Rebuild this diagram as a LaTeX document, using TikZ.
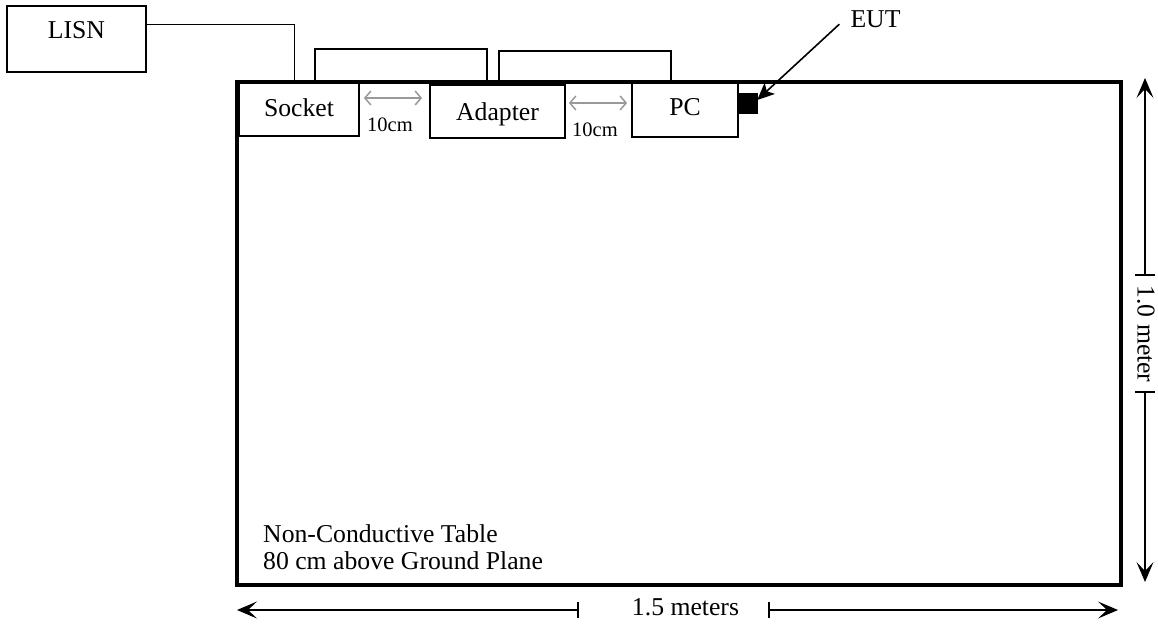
\documentclass[tikz,border=0pt]{standalone}
\usepackage{fontspec}
\setmainfont{Liberation Serif}
\usetikzlibrary{arrows.meta}
\begin{document}
\begin{tikzpicture}[x=1pt,y=-1pt,
  bigfont/.style={font=\fontsize{25.7}{27}\selectfont},
  box/.style={draw, line width=1.8pt, fill=white, inner sep=0pt, bigfont,
    text height=17pt, text depth=#1},
  box/.default=0pt,
  tablebox/.style={draw, line width=3.8pt, inner sep=0pt},
  cable/.style={line width=2pt},
  wire/.style={line width=1pt},
  gap/.style={draw=black!40, line width=1.5pt, {Straight Barb[length=6pt,width=14pt]}-{Straight Barb[length=6pt,width=14pt]}},
  dim/.style={line width=1.3pt, -{Stealth[length=20pt,width=17pt,inset=9pt]}},
  tick/.style={line width=1.3pt},
  smallfont/.style={font=\fontsize{20.5}{24}\selectfont, inner sep=0pt}]
\useasboundingbox (0,0) rectangle (1158,624);

% table
\node[tablebox, minimum width=884pt, minimum height=503pt] (table) at (679,333.5) {};

% boxes
\node[box=18pt, minimum width=139pt, minimum height=66pt] (lisn) at (76.5,39) {LISN};
\node[box=4pt, minimum width=120pt, minimum height=53pt] (socket) at (299,109.5) {Socket};
\node[box=0pt, minimum width=135pt, minimum height=53pt] (adapter) at (497.5,111.5) {Adapter};
\node[box=7pt, minimum width=106pt, minimum height=54pt] (pc) at (685,110) {PC};
\node[draw, fill=black, inner sep=0pt, minimum size=20pt] (eut) at (747,103) {};
\node[bigfont, inner sep=0pt, text height=17pt, text depth=0pt] (eutl) at (875.5,18.5) {EUT};

% cables
\draw[wire] ([yshift=15pt]lisn.east) -| ([xshift=-5pt,yshift=1pt]socket.north);
\draw[cable] ([xshift=16pt]socket.north) -- ++(0,-33) -| ([xshift=-10.5pt,yshift=3pt]adapter.north);
\draw[cable] ([xshift=1.5pt,yshift=3pt]adapter.north) -- ++(0,-30) -| ([xshift=-14pt]pc.north);

% spacing arrows
\draw[gap] ([xshift=4pt,yshift=11.5pt]socket.east) -- ([xshift=-7pt,yshift=13.5pt]adapter.west);
\draw[gap] ([xshift=3pt,yshift=8.5pt]adapter.east) -- ([xshift=-4pt,yshift=7pt]pc.west);
\node[smallfont] (gapa) at (390,125) {10cm};
\node[smallfont] (gapb) at (595,130) {10cm};

% EUT pointer
\draw[line width=1.6pt, -{Stealth[length=17pt,width=15pt,inset=4pt]}] ([xshift=-11pt,yshift=3pt]eutl.south west) -- ([yshift=3pt]eut.east);

% table note
\node[bigfont, inner sep=0pt, align=left, anchor=base west] (note) at (263,569) {Non-Conductive Table\\80 cm above Ground Plane};

% vertical dimension
\coordinate (vtop) at (1145,78);
\coordinate (vbot) at (1145,582);
\coordinate (vt1) at (1145,275);
\coordinate (vt2) at (1145,392);
\draw[dim] (vt1) -- (vtop);
\draw[dim] (vt2) -- (vbot);
\draw[tick] ([xshift=-10pt]vt1) -- ([xshift=10pt]vt1);
\draw[tick] ([xshift=-10pt]vt2) -- ([xshift=10pt]vt2);
\node[bigfont, inner sep=0pt, rotate=-90] (vlab) at (1146,334) {1.0 meter};

% horizontal dimension
\coordinate (hleft) at (237,610);
\coordinate (hright) at (1118,610);
\coordinate (ht1) at (578,610);
\coordinate (ht2) at (769,610);
\draw[dim] (ht1) -- (hleft);
\draw[dim] (ht2) -- (hright);
\draw[tick] ([yshift=8pt]ht1) -- ([yshift=-8pt]ht1);
\draw[tick] ([yshift=8pt]ht2) -- ([yshift=-8pt]ht2);
\node[bigfont, inner sep=0pt, anchor=base] (hlab) at (685.5,615) {1.5 meters};
\end{tikzpicture}
\end{document}
